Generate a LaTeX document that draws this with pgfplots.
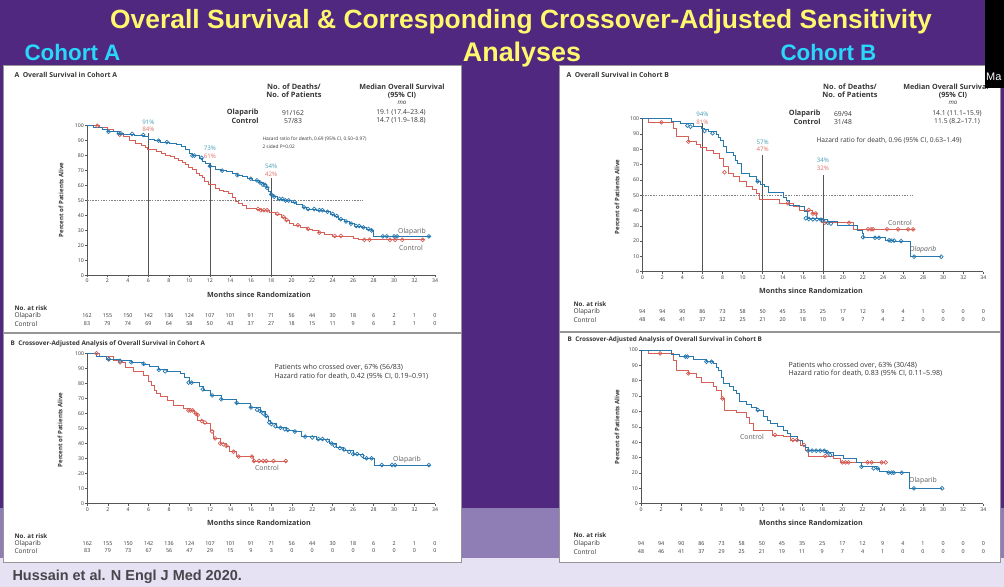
\documentclass[border=0pt]{standalone}
\usepackage{fontspec}
\setmainfont{Open Sans}
\newfontfamily\slidefont{Liberation Sans}
\usepackage{pgfplots}
\pgfplotsset{compat=1.18}

\definecolor{bgpurple}{RGB}{80,40,128}
\definecolor{bandpurple}{RGB}{143,125,182}
\definecolor{lavender}{RGB}{230,225,243}
\definecolor{titleyellow}{RGB}{255,248,110}
\definecolor{cohortcyan}{RGB}{40,215,250}
\definecolor{olablue}{RGB}{38,120,175}
\definecolor{ctrlred}{RGB}{214,96,88}
\definecolor{olatxt}{RGB}{70,160,185}
\definecolor{ctrltxt}{RGB}{225,115,105}
\definecolor{ink}{RGB}{55,55,55}
\definecolor{axisgray}{RGB}{85,85,85}
\definecolor{panelline}{RGB}{150,150,150}
\definecolor{citegray}{RGB}{70,70,75}
\definecolor{curvelab}{RGB}{95,95,95}

\newcommand\fs[1]{\fontsize{#1}{#1}\selectfont}

\pgfplotsset{
  km/.style={scale only axis, anchor=south west, clip=false,
    xmin=0, xmax=34, ymin=0, ymax=100,
    axis lines*=left,
    axis line style={-, draw=axisgray, line width=0.5bp},
    xtick={0,2,...,34}, ytick={0,10,...,100},
    tick align=outside, major tick length=2bp,
    tick style={draw=axisgray, line width=0.5bp},
    tick label style={font=\fs{5.2}, text=ink},
    /pgf/number format/assume math mode=true,
    xticklabel style={inner sep=1.5bp},
    yticklabel style={inner sep=1bp},
  },
  olacurve/.style={const plot, olablue, line width=0.7bp, mark=none},
  ctrlcurve/.style={const plot, ctrlred, line width=0.7bp, mark=none},
  olacens/.style={only marks, mark=o, mark size=1.9bp, olablue, mark options={line width=0.7bp}},
  ctrlcens/.style={only marks, mark=o, mark size=1.9bp, ctrlred, mark options={line width=0.7bp}},
  refline/.style={axisgray, line width=0.5bp, mark=none},
  halfline/.style={gray, line width=0.4bp, dash pattern=on 1.5bp off 1.2bp, mark=none},
}

\begin{document}
\begin{tikzpicture}
% ---------- slide background ----------
\begin{scope}[x=1bp,y=-1bp]
  \fill[bgpurple] (0,0) rectangle (1004,508);
  \fill[bandpurple] (0,508) rectangle (1004,558);
  \fill[lavender] (0,558) rectangle (1004,587);
  \node[anchor=base, text=titleyellow, font=\slidefont\bfseries\fs{26.5}] at (521,28)
    {Overall Survival \& Corresponding Crossover-Adjusted Sensitivity};
  \node[anchor=base, text=titleyellow, font=\slidefont\bfseries\fs{27}] at (522,61) {Analyses};
  \node[anchor=base west, text=cohortcyan, font=\slidefont\bfseries\fs{22.5}] at (21,60) {Cohort A};
  \node[anchor=base west, text=cohortcyan, font=\slidefont\bfseries\fs{22.5}] at (777,60) {Cohort B};
  % white panels
  \fill[white, draw=panelline, line width=0.8bp] (3,65) rectangle (461,562);
  \fill[white, draw=panelline, line width=0.8bp] (559,65) rectangle (1000,562);
  \draw[panelline, line width=1.6bp] (3,333) -- (461,333);
  \draw[panelline, line width=1.6bp] (559,332) -- (1000,332);
  \node[anchor=base west, text=citegray, font=\slidefont\bfseries\fs{14.5}] at (9,580)
    {Hussain et al. N Engl J Med 2020.};
\end{scope}

% ================= Cohort A: overall survival =================
\begin{axis}[km, at={(87bp,-275.3bp)}, width=348bp, height=149.6bp]
  \addplot[halfline] coordinates {(0,50) (27,50)};
  \addplot[refline] coordinates {(6,0) (6,95)};
  \addplot[refline] coordinates {(12,0) (12,75)};
  \addplot[refline] coordinates {(18,0) (18,65)};
  \addplot[ctrlcurve] coordinates {
    (0,100) (1.2,98.8) (2.0,97.6) (2.6,96.4) (3.2,94) (3.6,92.8) (4.1,90.4) (4.7,88)
    (5.3,86.8) (5.7,85.5) (5.9,84) (6.8,83) (7.3,81.8) (7.7,80.5) (8.1,79.3) (8.5,78)
    (8.9,76.8) (9.3,75.5) (9.6,74.3) (9.9,72) (10.3,70.5) (10.7,68) (11.0,66.5)
    (11.3,65.3) (11.5,63) (11.9,61) (12.5,58) (12.9,57) (13.3,56) (13.8,54.5)
    (14.2,52) (14.5,49.5) (14.8,48) (15.2,46.5) (15.6,45) (16.5,44.3) (17.0,43.5)
    (17.8,42) (18.4,41) (19.0,39) (19.4,37) (19.8,35) (20.2,33.5) (20.8,32) (21.5,31)
    (22.0,30) (22.6,28.5) (23.2,27.5) (24.0,26.3) (26.0,25) (26.5,23.7) (33,23.7)};
  \addplot[olacurve] coordinates {
    (0,100) (0.6,99) (1.5,97.5) (2.0,96) (3.0,95) (3.6,94.5) (4.6,93.8) (5.6,92.7)
    (5.95,91) (6.6,90) (7.2,89) (8.0,88.3) (8.7,87.5) (9.2,86.5) (9.6,84) (10.0,81.5)
    (10.3,80) (11.0,78.5) (11.3,76.5) (11.6,75) (12.0,73) (12.5,71) (13.0,70)
    (13.6,69.3) (14.2,68) (14.7,67) (15.2,66) (15.7,64.5) (16.2,63.5) (16.8,62)
    (17.2,60.5) (17.5,58.5) (17.7,56) (17.9,54) (18.2,52.5) (18.6,51) (19.3,50)
    (20.0,49) (20.5,47.5) (21.0,45.5) (21.4,44.3) (22.4,43.5) (23.2,42.5) (23.8,41)
    (24.2,39.6) (24.6,37.5) (25.1,36) (25.6,34.5) (26.1,33) (26.8,32) (27.3,31)
    (27.8,30) (28.0,26) (33.5,26)};
  \addplot[ctrlcens] coordinates {
    (1.0,100) (3.2,94) (16.7,44.3) (17.0,43.5) (17.3,43.5) (17.6,43.5) (18.6,41)
    (19.2,39) (19.5,37) (20.6,33.5) (21.6,31) (22.7,28.5) (24.2,26.3) (24.8,26.3)
    (27.1,23.7) (27.6,23.7) (29.6,23.7) (30.1,23.7) (30.8,23.7) (32.8,23.7)};
  \addplot[olacens] coordinates {
    (2.1,96) (3.1,95) (3.3,95) (4.4,94.5) (5.5,93.8) (7.0,90) (7.8,89) (10.3,80)
    (10.5,80) (11.2,78.5) (12.0,73) (13.2,70) (14.7,67) (16.0,64.5) (16.6,63.5)
    (16.9,62) (17.2,60.5) (17.4,60.5) (17.6,58.5) (18.0,54) (18.3,52.5) (18.8,51)
    (19.1,51) (19.4,50) (19.7,50) (20.3,49) (21.2,45.5) (21.6,44.3) (22.2,44.3)
    (22.7,43.5) (23.0,43.5) (23.5,42.5) (24.0,41) (24.4,39.6) (24.8,37.5) (25.3,36)
    (25.8,34.5) (26.3,33) (26.6,33) (27.0,32) (27.5,31) (27.8,30) (28.9,26) (29.3,26)
    (30.0,26) (30.3,26) (33.4,26)};
  \node[font=\fs{6.2}, text=olatxt] at (axis cs:6,102.5) {91\%};
  \node[font=\fs{6.2}, text=ctrltxt] at (axis cs:6,97.6) {84\%};
  \node[font=\fs{6.2}, text=olatxt] at (axis cs:12,84.6) {73\%};
  \node[font=\fs{6.2}, text=ctrltxt] at (axis cs:12,79.4) {61\%};
  \node[font=\fs{6.2}, text=olatxt] at (axis cs:18,72.6) {54\%};
  \node[font=\fs{6.2}, text=ctrltxt] at (axis cs:18,67.4) {42\%};
\end{axis}

% ================= Cohort A: crossover-adjusted =================
\begin{axis}[km, at={(87.3bp,-503.7bp)}, width=347.7bp, height=150.4bp]
  \addplot[ctrlcurve] coordinates {
    (0,100) (1.2,97.8) (2.5,95.6) (3.4,93.8) (3.7,90.7) (4.5,87.8) (5.5,85.6)
    (6.0,81.2) (6.3,78.5) (6.6,75.6) (6.8,73.5) (7.1,71.2) (7.8,69) (8.4,65.6)
    (9.4,63.4) (10.0,61.9) (10.5,60.1) (10.8,55.7) (11.3,53.4) (12.0,49) (12.3,43.5)
    (13.0,40.1) (13.6,38.4) (13.9,34.6) (14.6,31.3) (16.2,28.4) (19.5,28.4)};
  \addplot[olacurve] coordinates {
    (0,100) (0.9,98) (1.9,96) (3.2,95) (4.3,94) (5.5,92.7) (6.1,91) (6.9,89)
    (7.8,87.8) (9.1,86.7) (9.5,84) (10.0,80.5) (11.0,78) (11.3,75.6) (12.0,72)
    (13.1,69.4) (14.6,66.7) (15.9,63.9) (16.9,61.2) (17.4,58.3) (17.7,55.5)
    (17.9,53.4) (18.5,50.5) (19.5,49) (20.1,47.9) (20.9,44.6) (22.4,42.8) (23.7,40.1)
    (24.4,37.5) (25.0,35.7) (26.0,33) (27.0,30.2) (28.1,25.7) (33.5,25.7)};
  \addplot[ctrlcens] coordinates {
    (0.9,100) (2.1,96) (3.2,94) (9.9,62) (10.1,62) (10.3,62) (10.6,60) (10.8,59)
    (11.2,55) (11.5,54) (12.2,48) (12.5,43.5) (13.0,40.1) (13.3,39.5) (13.6,38.4)
    (14.3,34.6) (14.8,31.3) (16.1,31.3) (16.3,28.4) (16.8,28.4) (17.2,28.4)
    (17.5,28.4) (18.2,28.4) (19.4,28.4)};
  \addplot[olacens] coordinates {
    (2.1,96) (3.2,95) (4.3,94) (5.5,93) (7.0,89) (7.6,88) (9.9,80.5) (10.2,80.5)
    (11.3,76) (12.2,72) (13.1,69.4) (14.6,67) (16.0,64) (16.6,62.5) (16.9,61.5)
    (17.2,60) (17.5,58.3) (17.8,54) (18.0,53) (18.4,51.5) (18.9,50.5) (19.3,49.5)
    (19.6,49) (20.3,48) (21.3,44.6) (22.0,44) (22.6,43) (23.0,43) (23.5,42) (23.9,40)
    (24.2,38.5) (24.7,37) (25.1,36) (25.6,34.5) (26.0,33) (26.4,33) (26.9,32)
    (27.3,30.2) (27.8,30.2) (28.8,25.7) (29.8,25.7) (30.1,25.7) (33.4,25.7)};
\end{axis}

% ================= Cohort B: overall survival =================
\begin{axis}[km, at={(642.3bp,-271.7bp)}, width=341bp, height=153bp]
  \addplot[halfline] coordinates {(0,50) (27,50)};
  \addplot[refline] coordinates {(6,0) (6,97)};
  \addplot[refline] coordinates {(12,0) (12,76)};
  \addplot[refline] coordinates {(18,0) (18,63)};
  \addplot[ctrlcurve] coordinates {
    (0,100) (0.6,97.6) (3.1,93.7) (3.4,88.2) (4.6,85) (5.4,83) (5.8,81) (6.4,79)
    (7.1,77.3) (7.7,74) (8.1,68.6) (8.6,64.3) (9.1,62.1) (9.7,58.8) (10.4,55.6)
    (11.0,53.5) (11.4,51.2) (11.7,47.3) (13.7,44.7) (15.1,42.5) (15.7,40.3) (17.0,38)
    (17.4,34.9) (17.9,32) (21.0,27.7) (27.2,27.7)};
  \addplot[olacurve] coordinates {
    (0,100) (2.9,98) (3.8,96.9) (5.1,94.8) (5.9,94) (6.2,93) (6.6,91.5) (7.4,90)
    (7.6,88) (7.8,86) (8.1,81.7) (8.4,77.8) (9.1,76.3) (9.3,73) (9.5,70.8) (9.9,64.3)
    (10.7,62.1) (11.4,59.3) (11.8,57) (12.2,55.6) (12.6,51.6) (14.1,48.5) (14.4,46.8)
    (14.7,43.6) (15.7,42.5) (16.2,39.2) (16.5,34.9) (17.7,34.2) (18.4,32.7) (19.4,30.5)
    (21.4,27.2) (21.9,25) (22.0,22.2) (24.2,20.7) (25.0,20) (26.7,9.8) (29.8,9.8)};
  \addplot[ctrlcens] coordinates {
    (1.9,97.6) (4.6,85) (8.2,65) (14.5,44.7) (16.6,40.3) (17.0,38) (17.3,38)
    (18.2,32) (20.6,32) (22.5,27.7) (22.8,27.7) (23.0,27.7) (24.4,27.7) (25.5,27.7)
    (26.5,27.7) (27.0,27.7)};
  \addplot[olacens] coordinates {
    (4.5,95.5) (4.8,94.8) (6.2,92) (7.0,90.5) (11.5,59) (16.3,35) (16.6,34.5)
    (17.0,34.2) (17.4,34.2) (17.8,34) (18.0,33.5) (18.5,32) (18.8,31.5) (22.0,22.5)
    (23.2,22.2) (23.6,22.2) (24.6,20.5) (24.8,20.3) (25.1,20.3) (25.8,20) (27.1,9.8)
    (29.8,9.8)};
  \node[font=\fs{6.2}, text=olatxt] at (axis cs:6,103) {94\%};
  \node[font=\fs{6.2}, text=ctrltxt] at (axis cs:6,97.8) {81\%};
  \node[font=\fs{6.2}, text=olatxt] at (axis cs:12,84.9) {57\%};
  \node[font=\fs{6.2}, text=ctrltxt] at (axis cs:12,80) {47\%};
  \node[font=\fs{6.2}, text=olatxt] at (axis cs:18,72.9) {34\%};
  \node[font=\fs{6.2}, text=ctrltxt] at (axis cs:18,67.4) {32\%};
\end{axis}

% ================= Cohort B: crossover-adjusted =================
\begin{axis}[km, at={(641bp,-503.7bp)}, width=342.3bp, height=153.7bp]
  \addplot[ctrlcurve] coordinates {
    (0,100) (0.7,97.8) (3.2,93.5) (3.5,87) (4.7,84.8) (5.5,82.2) (6.0,78.7) (7.2,76.6)
    (7.5,74) (8.0,68.5) (8.3,61) (9.5,59.2) (10.5,56.2) (10.8,52.3) (11.2,47.5)
    (13.0,44.7) (14.1,43.6) (14.8,41.4) (15.8,38.2) (16.3,34.5) (16.6,31) (19.1,29.5)
    (19.8,26.9) (24.2,26.9)};
  \addplot[olacurve] coordinates {
    (0,100) (3.0,97.4) (3.8,95.7) (5.2,93.9) (6.5,92.4) (7.2,91.3) (7.5,89) (7.7,87)
    (8.0,82) (8.2,78.3) (8.8,76.1) (9.2,74) (9.5,71.8) (9.8,66.4) (10.5,64.9) (11.0,63)
    (11.5,61) (12.2,57) (12.5,54.5) (12.8,52.3) (13.5,50.1) (14.1,47.9) (14.5,45.5)
    (14.8,43.6) (15.5,41.4) (16.0,38.2) (16.3,36.5) (16.6,34.5) (18.4,33.5)
    (19.1,31.7) (20.1,29.5) (21.4,26.7) (21.9,24.1) (23.4,23) (23.7,20.8) (24.5,20.2)
    (26.7,10) (29.9,10)};
  \addplot[ctrlcens] coordinates {
    (1.9,97.8) (4.7,84.8) (8.1,68.5) (13.3,44.7) (15.1,41.4) (15.5,41.4) (16.2,38.2)
    (18.3,31) (20.0,26.9) (20.3,26.9) (20.6,26.9) (22.5,26.9) (22.9,26.9) (23.9,26.9)
    (24.3,26.9)};
  \addplot[olacens] coordinates {
    (4.4,95.7) (4.6,95.7) (6.5,92.4) (7.0,92.4) (11.6,61) (16.6,34.5) (17.0,34.5)
    (17.4,34.5) (17.8,34.5) (18.2,34.5) (18.5,33.5) (18.8,31.7) (21.9,24.1) (23.1,23)
    (23.5,23) (24.6,20.2) (24.9,20.2) (25.1,20.2) (25.9,20.2) (27.1,10) (29.9,10)};
\end{axis}

% ---------- panel texts and numbers at risk ----------
\begin{scope}[x=1bp,y=-1bp, every node/.style={text=ink}]
  % Cohort A, panel A
  \node[anchor=base west, font=\bfseries\fs{6.9}] at (11,77.5) {A\hspace{3.5bp}Overall Survival in Cohort A};
  \node[font=\bfseries\fs{7.4}] at (294,87) {No. of Deaths/};
  \node[font=\bfseries\fs{7.4}] at (294,94.5) {No. of Patients};
  \node[font=\bfseries\fs{7.2}] at (402,87) {Median Overall Survival};
  \node[font=\bfseries\fs{7.2}] at (402,95) {(95\% CI)};
  \node[font=\itshape\fs{6.2}] at (402,103) {mo};
  \node[anchor=east, font=\bfseries\fs{7.3}] at (262,113) {Olaparib};
  \node[anchor=east, font=\bfseries\fs{7.3}] at (262,121) {Control};
  \node[font=\fs{6.8}] at (293,113) {91/162};
  \node[font=\fs{6.8}] at (293,121) {57/83};
  \node[font=\fs{6.8}] at (401,113) {19.1 (17.4–23.4)};
  \node[font=\fs{6.8}] at (401,121) {14.7 (11.9–18.8)};
  \node[anchor=west, font=\fs{4.8}] at (259,139) {Hazard ratio for death, 0.69 (95\% CI, 0.50–0.97)};
  \node[anchor=west, font=\fs{4.8}] at (259,147) {2 sided P=0.02};
  \node[font=\fs{6.9}, text=curvelab] at (412,232) {Olaparib};
  \node[font=\fs{6.9}, text=curvelab] at (411,247.7) {Control};
  \node[font=\bfseries\fs{7.2}] at (259,295) {Months since Randomization};
  \node[rotate=90, font=\bfseries\fs{6.1}] at (61,200) {Percent of Patients Alive};
  \node[anchor=west, font=\bfseries\fs{6.3}] at (11,308) {No. at risk};
  \node[anchor=west, font=\fs{6.6}] at (11,316) {Olaparib};
  \node[anchor=west, font=\fs{6.6}] at (11,324) {Control};
  \foreach \v [count=\i from 0] in {162,155,150,142,136,124,107,101,91,71,56,44,30,18,6,2,1,0}
    \node[font=\fs{5.4}] at ({87+20.47*\i},316) {\v};
  \foreach \v [count=\i from 0] in {83,79,74,69,64,58,50,43,37,27,18,15,11,9,6,3,1,0}
    \node[font=\fs{5.4}] at ({87+20.47*\i},324) {\v};

  % Cohort A, panel B
  \node[anchor=base west, font=\bfseries\fs{6.4}] at (7,345) {B\hspace{3.5bp}Crossover-Adjusted Analysis of Overall Survival in Cohort A};
  \node[anchor=west, font=\fs{7.1}] at (271,367.7) {Patients who crossed over, 67\% (56/83)};
  \node[anchor=west, font=\fs{7.1}] at (271,376.7) {Hazard ratio for death, 0.42 (95\% CI, 0.19–0.91)};
  \node[font=\fs{6.9}, text=curvelab] at (407,460) {Olaparib};
  \node[font=\fs{6.9}, text=curvelab] at (267,467.7) {Control};
  \node[font=\bfseries\fs{7.2}] at (259,523.3) {Months since Randomization};
  \node[rotate=90, font=\bfseries\fs{6.1}] at (60,430) {Percent of Patients Alive};
  \node[anchor=west, font=\bfseries\fs{6.3}] at (11,535.7) {No. at risk};
  \node[anchor=west, font=\fs{6.6}] at (11,543.3) {Olaparib};
  \node[anchor=west, font=\fs{6.6}] at (11,551) {Control};
  \foreach \v [count=\i from 0] in {162,155,150,142,136,124,107,101,91,71,56,44,30,18,6,2,1,0}
    \node[font=\fs{5.4}] at ({87.3+20.45*\i},543.3) {\v};
  \foreach \v [count=\i from 0] in {83,79,73,67,56,47,29,15,9,3,0,0,0,0,0,0,0,0}
    \node[font=\fs{5.4}] at ({87.3+20.45*\i},551) {\v};

  % Cohort B, panel A
  \node[anchor=base west, font=\bfseries\fs{6.9}] at (563,77.5) {A\hspace{3.5bp}Overall Survival in Cohort B};
  \node[font=\bfseries\fs{7.4}] at (850,87) {No. of Deaths/};
  \node[font=\bfseries\fs{7.4}] at (850,94.5) {No. of Patients};
  \node[font=\bfseries\fs{7.2}] at (946,87) {Median Overall Survival};
  \node[font=\bfseries\fs{7.2}] at (953,95) {(95\% CI)};
  \node[font=\itshape\fs{6.2}] at (953,103) {mo};
  \node[anchor=east, font=\bfseries\fs{7.3}] at (824,114) {Olaparib};
  \node[anchor=east, font=\bfseries\fs{7.3}] at (824,122) {Control};
  \node[font=\fs{6.8}] at (843,114) {69/94};
  \node[font=\fs{6.8}] at (843,122) {31/48};
  \node[font=\fs{6.8}] at (957,114) {14.1 (11.1–15.9)};
  \node[font=\fs{6.8}] at (957,122) {11.5 (8.2–17.1)};
  \node[anchor=west, font=\fs{6.7}] at (813,140) {Hazard ratio for death, 0.96 (95\% CI, 0.63–1.49)};
  \node[font=\fs{6.9}, text=curvelab] at (900,223.3) {Control};
  \node[font=\itshape\fs{6.9}, text=curvelab] at (923,250) {Olaparib};
  \node[font=\bfseries\fs{7.2}] at (811,291) {Months since Randomization};
  \node[rotate=90, font=\bfseries\fs{6.1}] at (617,197) {Percent of Patients Alive};
  \node[anchor=west, font=\bfseries\fs{6.3}] at (570,304) {No. at risk};
  \node[anchor=west, font=\fs{6.6}] at (570,312) {Olaparib};
  \node[anchor=west, font=\fs{6.6}] at (570,320) {Control};
  \foreach \v [count=\i from 0] in {94,94,90,86,73,58,50,45,35,25,17,12,9,4,1,0,0,0}
    \node[font=\fs{5.4}] at ({642.3+20.06*\i},312) {\v};
  \foreach \v [count=\i from 0] in {48,46,41,37,32,25,21,20,18,10,9,7,4,2,0,0,0,0}
    \node[font=\fs{5.4}] at ({642.3+20.06*\i},320) {\v};

  % Cohort B, panel B
  \node[anchor=base west, font=\bfseries\fs{6.4}] at (564,341) {B\hspace{3.5bp}Crossover-Adjusted Analysis of Overall Survival in Cohort B};
  \node[anchor=west, font=\fs{7.1}] at (785,365.3) {Patients who crossed over, 63\% (30/48)};
  \node[anchor=west, font=\fs{7.1}] at (785,373.3) {Hazard ratio for death, 0.83 (95\% CI, 0.11–5.98)};
  \node[font=\fs{6.9}, text=curvelab] at (752,437.3) {Control};
  \node[font=\fs{6.9}, text=curvelab] at (923,481) {Olaparib};
  \node[font=\bfseries\fs{7.2}] at (811,522.7) {Months since Randomization};
  \node[rotate=90, font=\bfseries\fs{6.1}] at (617,427) {Percent of Patients Alive};
  \node[anchor=west, font=\bfseries\fs{6.3}] at (570,535) {No. at risk};
  \node[anchor=west, font=\fs{6.6}] at (570,544) {Olaparib};
  \node[anchor=west, font=\fs{6.6}] at (570,551.7) {Control};
  \foreach \v [count=\i from 0] in {94,94,90,86,73,58,50,45,35,25,17,12,9,4,1,0,0,0}
    \node[font=\fs{5.4}] at ({641+20.14*\i},544) {\v};
  \foreach \v [count=\i from 0] in {48,46,41,37,29,25,21,19,11,9,7,4,1,0,0,0,0,0}
    \node[font=\fs{5.4}] at ({641+20.14*\i},551.7) {\v};

  % corner overlay
  \fill[black] (985,0) rectangle (1004,88);
  \node[anchor=base west, text=white, font=\slidefont\fs{11}, inner sep=0pt] at (986,80) {Ma};
\end{scope}

\pgfresetboundingbox
\path[use as bounding box] (0,0) rectangle (1004bp,-587bp);
\end{tikzpicture}
\end{document}
